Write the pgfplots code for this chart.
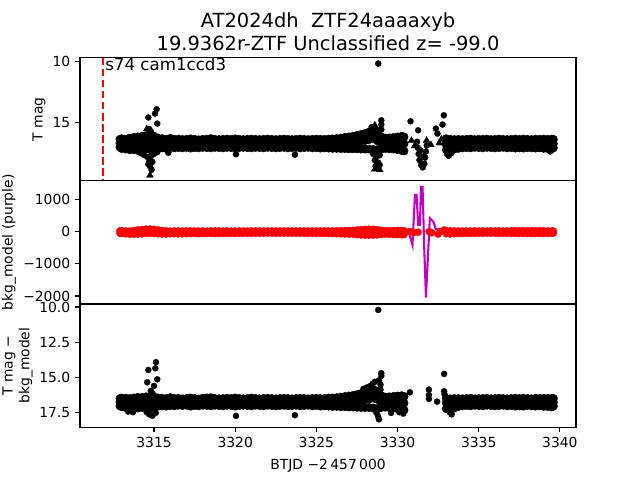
\documentclass[border=0pt]{standalone}
\usepackage{fontspec}
\setmainfont{DejaVu Sans}
\usepackage{pgfplots}
\pgfplotsset{compat=1.18}
\usepackage{pgfplotstable}
\definecolor{mplm}{rgb}{0.75,0,0.75}

\pgfplotstableread{
x t1 t2 t3 b1 b2 b3 r1 r2
3312.90 16.40 16.72 17.05 16.48 16.74 17.00 30 -40
3313.00 16.35 16.75 17.15 16.44 16.75 17.06 35 -50
3313.25 16.40 16.74 17.20 16.46 16.72 17.12 30 -60
3313.50 16.30 16.72 17.25 16.48 16.78 17.18 25 -70
3313.75 16.25 16.75 17.25 16.44 16.80 17.20 40 -75
3314.00 16.20 16.72 17.30 16.40 16.75 17.15 60 -70
3314.25 16.15 16.68 17.25 16.40 16.72 17.12 75 -60
3314.50 16.10 16.64 17.20 16.36 16.72 17.15 85 -50
3314.75 16.00 16.62 17.25 16.32 16.75 17.20 90 -45
3315.00 16.15 16.66 17.20 16.36 16.72 17.10 80 -50
3315.25 16.30 16.72 17.15 16.44 16.74 17.02 60 -60
3315.50 16.35 16.74 17.10 16.46 16.75 17.00 40 -65
3315.75 16.40 16.76 17.15 16.48 16.75 17.02 30 -70
3316.00 16.32 16.72 17.08 16.42 16.72 16.98 25 -60
3316.25 16.40 16.76 17.10 16.48 16.76 17.00 30 -55
3316.50 16.38 16.74 17.08 16.46 16.74 16.96 28 -60
3316.75 16.42 16.76 17.10 16.50 16.76 16.98 25 -58
3317.00 16.40 16.72 17.06 16.48 16.72 16.96 30 -55
3317.25 16.36 16.76 17.12 16.44 16.75 17.02 32 -52
3317.50 16.40 16.74 17.08 16.48 16.74 16.98 28 -50
3317.75 16.44 16.77 17.10 16.52 16.77 17.00 30 -55
3318.00 16.40 16.74 17.06 16.46 16.75 16.96 27 -52
3318.25 16.38 16.72 17.08 16.44 16.72 16.98 25 -50
3318.50 16.34 16.76 17.10 16.42 16.76 17.00 30 -48
3318.75 16.40 16.74 17.06 16.48 16.74 16.96 32 -50
3319.00 16.42 16.76 17.08 16.50 16.76 16.98 28 -52
3319.25 16.40 16.74 17.10 16.48 16.74 17.00 25 -48
3319.50 16.38 16.72 17.06 16.46 16.72 16.96 30 -50
3319.75 16.40 16.76 17.08 16.48 16.75 16.98 28 -45
3320.00 16.36 16.74 17.10 16.44 16.74 17.02 25 -48
3320.25 16.40 16.76 17.08 16.48 16.76 16.98 30 -45
3320.50 16.42 16.74 17.06 16.50 16.74 16.96 28 -42
3320.75 16.40 16.72 17.08 16.48 16.72 16.98 30 -45
3321.00 16.38 16.76 17.10 16.44 16.76 17.00 32 -42
3321.25 16.40 16.74 17.06 16.48 16.74 16.96 28 -40
3321.50 16.42 16.76 17.08 16.50 16.75 16.98 30 -42
3321.75 16.40 16.74 17.10 16.48 16.74 17.00 25 -40
3322.00 16.38 16.72 17.06 16.46 16.72 16.96 28 -38
3322.25 16.40 16.76 17.08 16.48 16.76 16.98 30 -40
3322.50 16.42 16.74 17.10 16.50 16.74 17.00 28 -42
3322.75 16.40 16.76 17.08 16.48 16.75 16.98 30 -40
3323.00 16.38 16.74 17.06 16.46 16.74 16.96 32 -38
3323.25 16.40 16.72 17.10 16.48 16.72 17.00 28 -40
3323.50 16.42 16.76 17.08 16.50 16.76 16.98 30 -42
3323.75 16.40 16.74 17.06 16.48 16.74 16.96 28 -40
3324.00 16.38 16.76 17.10 16.46 16.75 17.00 30 -42
3324.25 16.40 16.74 17.08 16.48 16.74 16.98 32 -44
3324.50 16.42 16.72 17.06 16.50 16.72 16.96 28 -42
3324.75 16.40 16.76 17.10 16.48 16.76 17.00 30 -45
3325.00 16.38 16.74 17.08 16.46 16.74 16.98 28 -44
3325.25 16.40 16.76 17.12 16.48 16.75 17.02 30 -46
3325.50 16.40 16.74 17.10 16.48 16.74 17.00 32 -48
3325.75 16.38 16.76 17.12 16.44 16.76 17.02 30 -50
3326.00 16.36 16.74 17.14 16.44 16.74 17.04 30 -52
3326.25 16.34 16.74 17.14 16.42 16.74 17.04 32 -55
3326.50 16.30 16.72 17.16 16.38 16.72 17.06 35 -60
3326.75 16.25 16.70 17.16 16.34 16.72 17.06 40 -65
3327.00 16.20 16.66 17.18 16.30 16.70 17.08 45 -70
3327.25 16.15 16.64 17.18 16.26 16.68 17.08 50 -75
3327.50 16.08 16.60 17.18 16.20 16.65 17.10 60 -85
3327.75 16.00 16.54 17.20 16.13 16.62 17.12 70 -95
3328.00 15.92 16.50 17.20 16.06 16.58 17.12 80 -100
3328.25 15.80 16.42 17.20 15.96 16.52 17.12 85 -105
3328.50 15.65 16.32 17.22 15.83 16.45 17.15 80 -100
3328.75 15.90 16.52 17.25 15.98 16.55 17.20 70 -95
3329.00 16.20 16.66 17.20 16.28 16.70 17.12 50 -80
3329.25 16.30 16.72 17.15 16.38 16.72 17.10 40 -70
3329.50 16.28 16.72 17.18 16.36 16.74 17.12 35 -75
3329.75 16.25 16.70 17.20 16.33 16.72 17.15 40 -80
3330.00 16.20 16.72 17.25 16.30 16.75 17.20 45 -85
3330.25 16.15 16.74 17.30 16.28 16.78 17.25 40 -90
3330.40 16.20 16.76 17.35 16.33 16.80 17.30 35 -85
3333.00 16.35 16.76 17.25 16.48 16.80 17.20 40 -60
3333.25 16.40 16.78 17.30 16.50 16.82 17.25 35 -65
3333.50 16.42 16.76 17.20 16.48 16.78 17.15 30 -55
3333.75 16.40 16.75 17.14 16.48 16.75 17.05 28 -50
3334.00 16.42 16.76 17.10 16.50 16.76 17.00 30 -48
3334.25 16.40 16.74 17.08 16.48 16.74 16.98 28 -45
3334.50 16.38 16.76 17.10 16.46 16.75 17.00 30 -46
3334.75 16.42 16.74 17.06 16.50 16.74 16.96 32 -44
3335.00 16.40 16.76 17.08 16.48 16.76 16.98 28 -42
3335.25 16.40 16.74 17.10 16.48 16.74 17.00 30 -44
3335.50 16.38 16.72 17.06 16.46 16.72 16.96 28 -42
3335.75 16.42 16.76 17.08 16.50 16.76 16.98 30 -40
3336.00 16.40 16.74 17.10 16.48 16.74 17.00 32 -42
3336.25 16.38 16.76 17.08 16.46 16.75 16.98 30 -44
3336.50 16.40 16.74 17.06 16.48 16.74 16.96 28 -42
3336.75 16.42 16.76 17.10 16.50 16.76 17.00 30 -44
3337.00 16.40 16.74 17.08 16.48 16.74 16.98 35 -46
3337.25 16.38 16.76 17.12 16.46 16.75 17.02 38 -48
3337.50 16.40 16.74 17.10 16.48 16.74 17.00 35 -50
3337.75 16.38 16.76 17.12 16.46 16.76 17.02 38 -48
3338.00 16.40 16.74 17.08 16.48 16.74 16.98 35 -50
3338.25 16.42 16.76 17.10 16.50 16.75 17.00 38 -52
3338.50 16.38 16.74 17.12 16.46 16.74 17.02 35 -50
3338.75 16.40 16.76 17.10 16.48 16.76 17.00 38 -48
3339.00 16.38 16.74 17.14 16.46 16.74 17.04 35 -50
3339.25 16.40 16.76 17.16 16.48 16.75 17.05 30 -45
3339.50 16.38 16.74 17.18 16.46 16.74 17.08 30 -45
3339.60 16.40 16.76 17.10 16.48 16.75 17.02 25 -40
}\band

% extra circles, top panel
\pgfplotstableread{
x y
3314.65 14.61
3315.06 14.29
3315.16 13.93
3315.20 15.11
3314.70 15.55
3314.80 15.75
3314.20 17.55
3314.40 17.70
3314.60 17.85
3314.80 17.80
3315.00 17.60
3315.20 17.45
3314.70 18.20
3314.90 18.25
3314.75 18.60
3314.85 18.90
3314.65 18.45
3328.00 16.15
3328.25 16.05
3328.50 15.95
3328.40 15.40
3328.70 15.60
3328.81 10.19
3329.00 14.84
3329.00 15.19
3329.00 15.60
3328.50 17.60
3328.70 17.80
3328.90 17.70
3328.60 18.10
3328.80 18.30
3328.65 18.60
3328.90 18.50
3330.80 14.92
3331.27 15.66
3332.36 15.52
3332.46 15.93
3332.85 14.43
3332.77 15.19
3331.20 16.60
3331.25 17.10
3331.30 17.60
3331.35 18.10
3331.45 18.50
3331.55 18.70
3331.65 18.40
3331.70 17.90
3331.75 17.40
3331.80 16.90
3331.40 17.30
3331.60 17.80
3332.90 16.40
3332.95 16.90
3333.05 17.60
3333.15 17.75
3333.30 17.55
3315.88 17.50
3320.05 17.62
3323.68 17.65
3339.40 17.40
}\topdots

% triangles, top panel
\pgfplotstableread{
x y
3314.55 15.55
3314.15 17.45
3314.75 19.35
3328.60 15.25
3328.60 18.85
3328.90 18.90
3330.35 17.45
3330.86 16.50
3331.05 16.95
3331.79 16.50
3332.05 16.85
3332.57 16.70
3332.70 16.40
}\toptri

% extra circles, bottom panel
\pgfplotstableread{
x y
3314.58 15.33
3314.65 14.46
3315.08 14.34
3315.12 13.91
3315.20 15.12
3315.00 15.59
3314.80 15.94
3314.90 16.10
3314.55 17.45
3314.70 17.60
3314.90 17.70
3315.10 17.50
3313.40 17.40
3313.70 17.45
3320.05 17.71
3323.68 17.66
3327.90 15.80
3328.10 15.70
3328.30 15.60
3328.45 15.45
3328.60 15.30
3328.85 15.20
3328.95 15.50
3329.00 14.69
3329.00 14.88
3328.95 15.85
3328.30 16.10
3328.55 16.00
3328.75 16.10
3328.81 10.21
3328.70 17.50
3328.80 17.75
3328.85 17.95
3329.60 17.50
3330.10 17.45
3330.35 17.55
3330.76 16.04
3331.93 15.85
3331.93 16.23
3331.93 16.51
3332.44 16.70
3332.87 14.74
3332.87 15.97
3332.90 16.20
3333.33 17.60
3333.20 17.45
}\botdots

% extra red points, middle panel
\pgfplotstableread{
x y
3330.76 10
3331.00 -20
3331.27 -10
3331.95 10
3332.10 -30
3332.50 -70
3332.60 0
3332.87 60
}\reddots

\pgfplotsset{
  panel/.style={scale only axis, width=357.1pt, height=88.7pt,
    xmin=3310.44, xmax=3340.99,
    axis line style={line width=0.8pt},
    tick style={black, line width=0.8pt},
    major tick length=3.5pt, tick align=outside,
    ytick pos=left, xtick pos=bottom,
    ticklabel style={font=\fontsize{10}{12}\selectfont},
    /pgf/number format/assume math mode=true,
    clip=true},
  dots/.style={only marks, mark=*, mark size=2.2pt, black,
    mark options={draw=black, fill=black, line width=0.2pt}},
  band/.style={only marks, mark=*, mark size=3.0pt, black,
    mark options={draw=black, fill=black, line width=0.3pt}},
  tris/.style={only marks, mark=triangle*, mark size=2.9pt, black,
    mark options={draw=black, fill=black, line width=0.2pt}},
  reds/.style={only marks, mark=*, mark size=2.6pt, red,
    mark options={draw=red, fill=red, line width=0.2pt}},
}

\begin{document}
\begin{tikzpicture}
\useasboundingbox (0,0) rectangle (460.8pt,345.6pt);

% top panel
\begin{axis}[panel, at={(57.6pt,215.42pt)}, anchor=south west,
  y dir=reverse, ymin=9.70, ymax=19.80,
  ytick={10,15}, yticklabels={10,15}, xtick=\empty,
  every axis y label/.style={at={(axis description cs:-0.0827,0.5)}, anchor=center, rotate=90, font=\fontsize{10}{12}\selectfont},
  ylabel={T mag}]
\addplot[red, dashed, line width=1.5pt, dash pattern=on 5.55pt off 2.4pt] coordinates {(3311.84,9.70) (3311.84,19.80)};
\addplot[band] table[x=x,y=t1]{\band};
\addplot[band] table[x=x,y=t2]{\band};
\addplot[band] table[x=x,y=t3]{\band};
\addplot[dots] table[x=x,y=y]{\topdots};
\addplot[tris] table[x=x,y=y]{\toptri};
\node[anchor=base west, inner sep=0pt, font=\fontsize{12}{14}\selectfont] at (axis cs:3311.98,10.74) {s74 cam1ccd3};
\end{axis}

% middle panel
\begin{axis}[panel, at={(57.6pt,126.72pt)}, anchor=south west,
  ymin=-2250, ymax=1594,
  ytick={-2000,-1000,0,1000}, yticklabels={−2000,−1000,0,1000}, xtick=\empty,
  every axis y label/.style={at={(axis description cs:-0.143,0.5)}, anchor=center, rotate=90, font=\fontsize{10}{12}\selectfont},
  ylabel={bkg\_model (purple)}]
\addplot[reds] table[x=x,y=r1]{\band};
\addplot[reds] table[x=x,y=r2]{\band};
\addplot[reds] table[x=x,y=y]{\reddots};
\addplot[mplm, line width=1.5pt] coordinates {
 (3312.9,10) (3313.5,0) (3314.2,-20) (3314.7,-40) (3315.0,-20) (3315.5,0)
 (3320,5) (3325,5) (3327.5,0) (3328.2,-50) (3328.6,-30) (3329.0,20)
 (3330.0,40) (3330.14,62) (3330.66,62) (3330.92,-406) (3331.07,1156)
 (3331.17,1156) (3331.27,219) (3331.38,219) (3331.44,1400) (3331.54,1400)
 (3331.64,-459) (3331.75,-2050) (3331.85,-978) (3331.99,428) (3332.20,322)
 (3332.36,84) (3332.81,84) (3332.92,-10) (3333.5,0) (3336,0) (3339.6,0)};
\end{axis}

% bottom panel
\begin{axis}[panel, at={(57.6pt,38.02pt)}, anchor=south west,
  y dir=reverse, ymin=9.79, ymax=18.51,
  ytick={10,12.5,15,17.5}, yticklabels={10.0,12.5,15.0,17.5},
  xtick={3315,3320,3325,3330,3335,3340},
  xticklabels={3315,3320,3325,3330,3335,3340},
  every axis y label/.style={at={(axis description cs:-0.126,0.5)}, anchor=center, rotate=90, align=center, font=\fontsize{10}{12}\selectfont},
  ylabel={T mag −\\bkg\_model}]
\addplot[band] table[x=x,y=b1]{\band};
\addplot[band] table[x=x,y=b2]{\band};
\addplot[band] table[x=x,y=b3]{\band};
\addplot[dots] table[x=x,y=y]{\botdots};
\end{axis}

\node[anchor=base, font=\fontsize{10}{12}\selectfont] at (236.2pt,7.9pt) {BTJD −2\,457\,000};
\node[anchor=base, font=\fontsize{14}{17}\selectfont] at (236.2pt,326.1pt) {AT2024dh\ \ ZTF24aaaaxyb};
\node[anchor=base, font=\fontsize{14}{17}\selectfont] at (236.2pt,309.5pt) {19.9362r-ZTF Unclassified z= -99.0};
\end{tikzpicture}
\end{document}
